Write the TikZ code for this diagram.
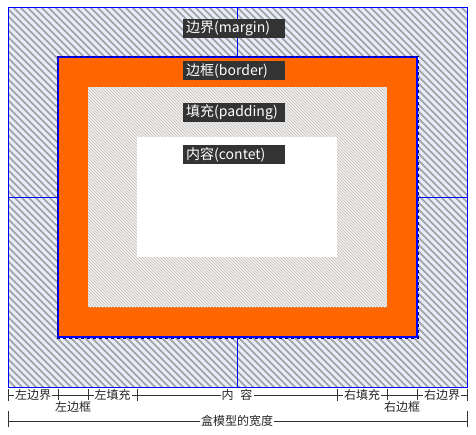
\documentclass[tikz,border=0pt]{standalone}
\usepackage{fontspec}
\setmainfont{Noto Sans CJK SC}
\begin{document}
\begin{tikzpicture}[x=1pt,y=-1pt,
  lbl/.style={fill=labelbg,text=white,font=\fontsize{14}{15}\selectfont,inner sep=0pt,minimum width=102pt,minimum height=19pt,anchor=north west,text width=100pt,align=left},
  dimtxt/.style={fill=white,inner sep=1pt,font=\fontsize{12}{13}\selectfont,text=black!85},
  dimline/.style={draw=black!80,line width=0.8pt},
  midline/.style={draw=blue,line width=0.8pt}]
\definecolor{labelbg}{HTML}{333333}
\definecolor{marginbg}{HTML}{E6ECFA}
\definecolor{stripe}{HTML}{A0A0A0}
\definecolor{padbg}{HTML}{F2F0F0}
\definecolor{padstripe}{HTML}{C2BEBE}
\definecolor{borderor}{HTML}{FF6600}
\definecolor{navy}{HTML}{000080}
\useasboundingbox (0,0) rectangle (476,434);
\fill[white] (0,0) rectangle (476,434);
% margin area
\coordinate (m1) at (8,7);
\coordinate (m2) at (467,387);
\fill[marginbg] (m1) rectangle (m2);
\begin{scope}
\clip (m1) rectangle (m2);
\foreach \i in {-400,-393,...,480}
  \draw[stripe,line width=1.5pt] (\i,0) -- (\i+400,400);
\end{scope}
% mid lines in margin
\draw[midline] (237,7) -- (237,57);
\draw[midline] (237,337) -- (237,387);
\draw[midline] (8,197) -- (58,197);
\draw[midline] (417,197) -- (467,197);
\draw[blue,line width=0.9pt] (m1) rectangle (m2);
% border
\coordinate (b1) at (58,57);
\coordinate (b2) at (417,337);
\fill[borderor] (b1) rectangle (b2);
% padding
\coordinate (p1) at (88,87);
\coordinate (p2) at (387,307);
\fill[padbg] (p1) rectangle (p2);
\begin{scope}
\clip (p1) rectangle (p2);
\foreach \i in {-230,-227,...,390}
  \draw[padstripe,line width=0.6pt] (\i,80) -- (\i+240,320);
\end{scope}
% content
\fill[white] (137,137) rectangle (337,257);
% border outline
\draw[blue,line width=2.2pt] (b1) rectangle (b2);
\draw[navy,line width=1pt,dash pattern=on 3pt off 3pt] (57,56) rectangle (418,338);
% labels
\node[lbl] (lm) at (183,19) {\hspace{2pt}边界(margin)};
\node[lbl] (lb) at (183,61) {\hspace{2pt}边框(border)};
\node[lbl] (lp) at (183,103) {\hspace{2pt}填充(padding)};
\node[lbl] (lc) at (183,145) {\hspace{2pt}内容(contet)};
% dimension row 1
\foreach \x/\n in {8/t1,58/t2,88/t3,137/t4,337/t5,387/t6,417/t7,467/t8}{
  \coordinate (\n a) at (\x,389);
  \coordinate (\n b) at (\x,401);
  \draw[dimline] (\n a) -- (\n b);
}
\coordinate (r1a) at (8,395);
\coordinate (r1b) at (467,395);
\draw[dimline] (r1a) -- (r1b);
\node[dimtxt] (d1) at (33,395) {左边界};
\node[dimtxt] (d2) at (73,407) {左边框};
\node[dimtxt] (d3) at (112.5,395) {左填充};
\node[dimtxt] (d4) at (237,395) {内\hspace{7pt}容};
\node[dimtxt] (d5) at (362,395) {右填充};
\node[dimtxt] (d6) at (402,407) {右边框};
\node[dimtxt] (d7) at (442,395) {右边界};
% dimension row 2
\coordinate (r2a) at (8,421);
\coordinate (r2b) at (467,421);
\draw[dimline] (8,411) -- (8,427);
\draw[dimline] (467,411) -- (467,427);
\draw[dimline] (r2a) -- (r2b);
\node[dimtxt] (d8) at (237,421) {盒模型的宽度};
\end{tikzpicture}
\end{document}
